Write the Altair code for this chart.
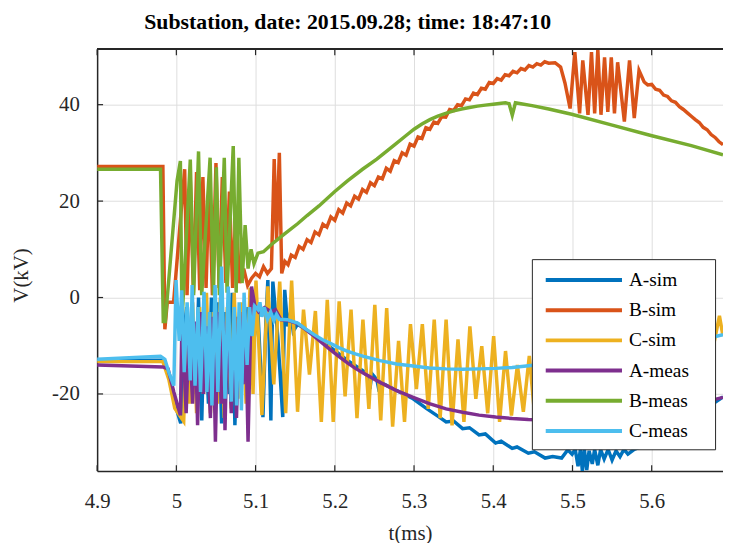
import altair as alt
import pandas as pd

# ---------------- data ----------------
series_names = ["A-sim", "B-sim", "C-sim", "A-meas", "B-meas", "C-meas"]
series_colors = ["#0072BD", "#D95319", "#EDB120", "#7E2F8E", "#77AC30", "#4DBEEE"]

x_ticks = [4.9, 5, 5.1, 5.2, 5.3, 5.4, 5.5, 5.6]
y_ticks = [-20, 0, 20, 40]

a_sim_t = [4.900, 4.983, 4.9905, 4.998, 5.0055, 5.0093, 5.013, 5.0155, 5.0193, 5.0243,
           5.028, 5.0321, 5.0355, 5.0405, 5.0443, 5.0493, 5.053, 5.0571, 5.0618, 5.0668,
           5.0705, 5.0739, 5.078, 5.0843, 5.0905, 5.0968, 5.103, 5.1093, 5.113, 5.1155,
           5.1193, 5.1218, 5.128, 5.1343, 5.1368, 5.1405, 5.1442, 5.1475, 5.153, 5.1739,
           5.1943, 5.2155, 5.2364, 5.243, 5.2443, 5.2468, 5.253, 5.2561, 5.258, 5.278,
           5.2989, 5.3155, 5.330, 5.3405, 5.350, 5.3613, 5.370, 5.3821, 5.390, 5.403, 5.410,
           5.4239, 5.430, 5.4443, 5.452, 5.4655, 5.475, 5.4863, 5.494, 5.4995, 5.5035,
           5.507, 5.510, 5.5125, 5.515, 5.518, 5.521, 5.525, 5.528, 5.532, 5.5355,
           5.540, 5.545, 5.550, 5.555, 5.560, 5.565, 5.570, 5.578, 5.600, 5.630,
           5.653, 5.674, 5.690]
a_sim_v = [-13.0, -13.0, -16.0, -22.0, -26.1, -8.0, -2.0, -18.0, -2.0, -20.0,
           0.0, -25.5, -3.0, -22.0, 0.0, -20.0, -1.0, -26.1, -3.0, -20.0,
           1.0, -26.5, -4.0, -15.0, -2.0, -10.0, -3.0, -24.8, -5.0, 3.6,
           -25.5, 3.3, -8.0, -24.8, 1.6, -6.0, -3.0, -7.0, -5.5, -7.8,
           -10.3, -13.0, -15.3, -16.8, -19.0, -15.8, -17.0, -19.5, -17.6, -19.3,
           -21.0, -23.0, -24.6, -25.8, -25.6, -27.2, -27.0, -28.5, -28.3, -30.2, -29.8,
           -31.3, -31.0, -32.3, -32.0, -33.3, -33.0, -33.3, -31.6, -32.5, -31.5,
           -35.0, -31.5, -36.0, -31.5, -35.8, -31.8, -34.5, -31.5, -34.8, -31.5,
           -33.5, -31.5, -33.7, -31.8, -33.0, -31.5, -32.5, -31.5, -30.0, -27.0,
           -24.5, -22.4, -20.6]

b_sim_t = [4.900, 4.983, 4.9855, 4.9885, 4.9965, 5.0105, 5.0135, 5.0175, 5.0215, 5.0255,
           5.0295, 5.0335, 5.0375, 5.0415, 5.0455, 5.050, 5.054, 5.058, 5.0625, 5.067,
           5.071, 5.075, 5.080, 5.085, 5.090, 5.095, 5.100, 5.105, 5.110, 5.115,
           5.120, 5.1235, 5.1265, 5.130, 5.133, 5.137, 5.141, 5.145, 5.150, 5.155,
           5.160, 5.165, 5.170, 5.175, 5.180, 5.185, 5.190, 5.195, 5.200, 5.205,
           5.210, 5.215, 5.220, 5.225, 5.230, 5.235, 5.240, 5.245, 5.250, 5.255,
           5.260, 5.265, 5.270, 5.275, 5.280, 5.285, 5.290, 5.295, 5.300, 5.305,
           5.310, 5.315, 5.320, 5.325, 5.330, 5.335, 5.340, 5.345, 5.350, 5.355,
           5.360, 5.365, 5.370, 5.375, 5.380, 5.385, 5.390, 5.395, 5.400, 5.405,
           5.410, 5.415, 5.420, 5.425, 5.430, 5.435, 5.440, 5.445, 5.450, 5.455,
           5.460, 5.465, 5.470, 5.478, 5.485, 5.4905, 5.497, 5.503, 5.509, 5.513,
           5.5196, 5.524, 5.528, 5.532, 5.536, 5.5405, 5.5446, 5.549, 5.553, 5.557,
           5.5655, 5.572, 5.578, 5.584, 5.5905, 5.595, 5.600, 5.605, 5.610, 5.615,
           5.620, 5.625, 5.630, 5.635, 5.640, 5.645, 5.650, 5.655, 5.660, 5.665,
           5.670, 5.675, 5.680, 5.685, 5.690]
b_sim_v = [27.2, 27.2, -6.6, -1.0, -1.0, 26.6, 0.5, 25.0, 1.0, 26.0,
           1.5, 25.0, 2.0, 24.5, 0.5, 27.9, 2.0, 25.0, 3.0, 22.0,
           2.0, 18.0, 3.0, 6.0, 2.5, 4.0, 5.0, 4.3, 6.4, 5.0,
           6.0, 28.7, 12.0, 30.0, 5.0, 7.5, 6.8, 8.8, 8.3, 10.6,
           10.0, 12.0, 11.4, 13.6, 13.0, 15.2, 14.6, 16.7, 16.0, 18.2,
           17.5, 19.6, 19.0, 21.0, 20.4, 22.4, 21.8, 23.8, 23.2, 25.0,
           24.6, 26.8, 26.2, 28.4, 28.0, 30.0, 29.5, 31.8, 31.4, 33.3,
           33.0, 35.2, 34.9, 36.4, 36.1, 37.5, 37.4, 39.0, 38.8, 40.0,
           39.8, 41.2, 41.0, 42.4, 42.1, 43.4, 43.2, 44.6, 44.4, 45.4,
           45.1, 46.2, 46.0, 46.9, 46.6, 47.5, 47.2, 48.1, 47.8, 48.5,
           48.2, 48.9, 48.6, 48.7, 47.8, 44.5, 39.2, 50.9, 38.2, 49.2,
           37.9, 50.9, 38.2, 51.5, 37.9, 49.8, 38.5, 49.8, 38.2, 48.8,
           36.5, 49.2, 37.2, 47.1, 44.7, 44.1, 44.2, 43.2, 43.0, 42.0,
           41.7, 40.8, 40.5, 39.6, 39.0, 38.3, 37.6, 36.9, 36.3, 35.3,
           34.8, 33.8, 33.2, 32.3, 31.7]

c_sim_t = [4.900, 4.983, 4.9905, 4.998, 5.0093, 5.013, 5.0168, 5.0205, 5.0255, 5.0293,
           5.0343, 5.038, 5.043, 5.0468, 5.0518, 5.0555, 5.0605, 5.0643, 5.0693, 5.073,
           5.078, 5.083, 5.088, 5.093, 5.0968,
           5.1005, 5.108, 5.1155, 5.123, 5.1305, 5.138, 5.1455, 5.153, 5.1605, 5.168,
           5.1755, 5.183, 5.1905, 5.198, 5.2055, 5.213, 5.2205, 5.228, 5.2355, 5.243,
           5.2505, 5.258, 5.2655, 5.273, 5.2805, 5.288, 5.2955, 5.303, 5.3105, 5.318,
           5.3255, 5.333, 5.3405, 5.348, 5.3555, 5.363, 5.3705, 5.378, 5.3855, 5.393,
           5.4005, 5.408, 5.4155, 5.423, 5.4305, 5.438, 5.4455, 5.453, 5.4605, 5.468,
           5.4755, 5.483, 5.4905, 5.498, 5.5055, 5.513, 5.5205, 5.528, 5.5355, 5.543,
           5.5505, 5.558, 5.5655, 5.573, 5.5805, 5.588, 5.5955, 5.603, 5.6105, 5.618,
           5.6255, 5.633, 5.6405, 5.648, 5.6555, 5.663, 5.6705, 5.678, 5.6855, 5.690]
c_sim_v = [-13.3, -13.3, -17.0, -23.0, -25.7, -5.0, -22.0, -1.0, -24.0, -2.0,
           -20.0, 1.0, -24.0, -3.0, -22.0, 0.0, -25.0, -2.0, -23.0, 1.0,
           -21.0, -1.0, -22.0, 2.0, -20.0,
           3.5, -24.4, 2.3, -18.0, 3.3, -24.0, 3.5, -23.7, -2.5, -16.0,
           -2.8, -25.8, -0.5, -25.8, -0.8, -20.5, -2.5, -25.0, -4.6, -23.1,
           -1.5, -25.5, -2.2, -26.8, -9.0, -25.8, -5.5, -19.0, -5.5, -23.1,
           -4.6, -25.0, -4.6, -26.5, -8.7, -25.8, -6.0, -21.0, -10.1, -24.0,
           -8.0, -25.8, -11.1, -24.5, -14.0, -23.7, -12.1, -25.8, -12.0, -23.0,
           -12.0, -22.0, -10.0, -21.0, -9.0, -20.0, -8.0, -18.0, -8.0, -17.0,
           -6.0, -15.0, -6.0, -14.0, -5.0, -13.0, -5.0, -12.0, -4.0, -12.0,
           -4.0, -11.0, -4.0, -11.0, -3.6, -10.5, -3.6, -10.0, -3.8, -8.0]

a_meas_t = [4.900, 4.983, 4.9895, 4.9968, 5.0051, 5.0071, 5.0124, 5.0161, 5.0205, 5.0236,
            5.0268, 5.0305, 5.0343, 5.038, 5.043, 5.0461, 5.0493, 5.053, 5.0568, 5.0593,
            5.0614, 5.0649, 5.0693, 5.0736, 5.0759, 5.0799, 5.0843, 5.0874, 5.0905, 5.0949,
            5.0989, 5.1040, 5.1113, 5.120, 5.125, 5.1321, 5.142, 5.153, 5.163, 5.1739,
            5.184, 5.1943, 5.205, 5.2155, 5.226, 5.2364, 5.2571, 5.278, 5.2989, 5.3193,
            5.3405, 5.3613, 5.3821, 5.403, 5.4239, 5.4443, 5.4655, 5.497, 5.528, 5.560,
            5.5905, 5.620, 5.653, 5.690]
a_meas_v = [-14.0, -14.4, -14.8, -19.6, -24.4, -4.6, -24.0, -6.0, -22.0, -5.0,
            -26.5, -3.0, -20.0, -6.0, -25.0, -4.0, -29.9, -3.0, -22.0, -5.0,
            -27.5, -2.0, -24.0, -4.0, -25.0, -3.0, -18.0, -6.0, -29.9, 2.3,
            -1.5, -3.0, -2.1, -3.0, -2.5, -4.6, -4.8, -5.4, -6.6, -8.0,
            -9.4, -10.8, -12.2, -13.5, -14.7, -15.7, -17.6, -19.3, -20.7, -22.0,
            -23.1, -23.8, -24.4, -24.8, -25.1, -25.3, -25.4, -25.3, -25.0, -24.6,
            -24.0, -23.3, -22.3, -20.7]

b_meas_t = [4.900, 4.980, 4.9835, 4.986, 5.0009, 5.0051, 5.0071, 5.0176, 5.0218, 5.028,
            5.032, 5.0426, 5.0468, 5.0505, 5.0543, 5.0605, 5.064, 5.0718, 5.0755, 5.0789,
            5.083, 5.0868, 5.0905, 5.0943, 5.098, 5.103, 5.110, 5.120, 5.135, 5.153,
            5.165, 5.180, 5.200, 5.216, 5.235, 5.253, 5.275, 5.290, 5.300, 5.310,
            5.320, 5.330, 5.340, 5.350, 5.360, 5.370, 5.380, 5.390, 5.400, 5.410,
            5.4155, 5.420, 5.424, 5.428, 5.435, 5.449, 5.470, 5.499, 5.549, 5.599,
            5.650, 5.690]
b_meas_v = [26.6, 26.6, -5.0, -5.0, 24.2, 28.3, -4.9, 28.6, 0.5, 30.3,
            0.5, 29.0, 0.5, 27.0, 0.5, 29.0, 1.0, 31.4, 1.0, 29.0,
            3.0, 15.0, 6.0, 10.0, 7.0, 9.2, 9.5, 11.0, 13.0, 15.3,
            17.0, 19.0, 22.0, 24.2, 26.6, 28.7, 31.6, 33.6, 34.9, 36.0,
            36.9, 37.6, 38.2, 38.7, 39.1, 39.4, 39.7, 39.9, 40.1, 40.3,
            40.4, 40.2, 37.8, 40.4, 40.2, 39.8, 39.1, 38.0, 35.8, 33.6,
            31.5, 29.6]

c_meas_t = [4.900, 4.980, 4.9855, 4.9905, 4.9968, 4.9996, 5.0036, 5.0068, 5.0099, 5.0136,
            5.0176, 5.0199, 5.0236, 5.0274, 5.0305, 5.0349, 5.0386, 5.0418, 5.0449, 5.0489,
            5.0524, 5.0571, 5.0614, 5.0655, 5.0693, 5.073, 5.0761, 5.0793, 5.0821, 5.0855,
            5.0893, 5.0924, 5.0955, 5.0989, 5.103, 5.1055, 5.108, 5.111, 5.115, 5.119,
            5.123, 5.1265, 5.130, 5.140, 5.153, 5.163, 5.1739, 5.184, 5.1943, 5.205,
            5.2155, 5.226, 5.2364, 5.2571, 5.278, 5.2989, 5.3193, 5.3405, 5.361, 5.3821,
            5.403, 5.4239, 5.4655, 5.497, 5.528, 5.560, 5.5905, 5.620, 5.653, 5.670, 5.690]
c_meas_v = [-12.8, -12.2, -12.8, -15.5, -18.3, 3.6, -9.0, 1.5, -15.5, -1.0,
            -17.2, 2.6, -18.3, -2.0, -19.6, 1.2, -19.6, -3.0, -22.4, 2.6,
            -19.6, 6.4, -21.0, 2.3, -21.6, -2.0, -22.4, -1.0, -23.4, 1.0,
            -14.0, -2.0, -8.0, -1.8, -2.5, -1.0, -4.0, -2.0, -4.5, -3.0,
            -4.8, -3.5, -4.5, -4.6, -5.3, -6.5, -7.7, -8.7, -9.5, -10.4,
            -11.1, -11.7, -12.2, -13.1, -13.8, -14.2, -14.6, -14.8, -14.9, -14.8,
            -14.7, -14.5, -13.8, -13.1, -12.3, -11.3, -10.4, -9.6, -8.8, -8.5, -7.7]

series_data = [
    ("A-sim", a_sim_t, a_sim_v),
    ("B-sim", b_sim_t, b_sim_v),
    ("C-sim", c_sim_t, c_sim_v),
    ("A-meas", a_meas_t, a_meas_v),
    ("B-meas", b_meas_t, b_meas_v),
    ("C-meas", c_meas_t, c_meas_v),
]

frames = []
for k, (name, ts, vs) in enumerate(series_data):
    frames.append(pd.DataFrame({"t": ts, "v": vs, "series": [name] * len(ts),
                                "draw": [k] * len(ts)}))
df = pd.concat(frames, ignore_index=True)

# ---------------- chart ----------------
W, H = 632, 426
FONT = "Liberation Serif"
AXC = "#262626"

xs = alt.Scale(domain=[4.9, 5.69], nice=False, zero=False)
ys = alt.Scale(domain=[-36, 51.5], nice=False, zero=False)

x_axis = alt.Axis(values=x_ticks, labelExpr="'' + datum.value", title="t(ms)",
                  labelPadding=20, titlePadding=11, labelFlush=False, labelFont=FONT)
y_axis = alt.Axis(values=y_ticks, labelExpr="'' + datum.value", title="V(kV)",
                  labelPadding=18, titleX=-66, titleY=228, labelFlush=False, labelFont=FONT)

legend = alt.Legend(
    title=" ", titleOrient="right", titlePadding=17, titleFontSize=1,
    orient="none", legendX=439, legendY=212,
    symbolType="M-3.85,0L3.85,0", symbolSize=400, symbolStrokeWidth=4,
    symbolOffset=31.5, labelOffset=33.5,
    labelFont=FONT, labelFontSize=19.5, labelColor="black",
    fillColor="white", strokeColor=AXC, padding=9, rowPadding=8.5)

lines = alt.Chart(df).mark_line(strokeWidth=3.5, clip=True).encode(
    x=alt.X("t:Q", scale=xs, axis=x_axis),
    y=alt.Y("v:Q", scale=ys, axis=y_axis),
    color=alt.Color("series:N", scale=alt.Scale(domain=series_names, range=series_colors),
                    legend=legend),
    detail="draw:O",
)

xt = pd.DataFrame({"t": x_ticks})
yt = pd.DataFrame({"v": y_ticks})
tick_style = dict(color=AXC, strokeWidth=1.2)
bottom_ticks = alt.Chart(xt).mark_rule(**tick_style).encode(
    x=alt.X("t:Q", scale=xs, axis=x_axis), y=alt.value(H), y2=alt.value(H - 6))
top_ticks = alt.Chart(xt).mark_rule(**tick_style).encode(
    x=alt.X("t:Q", scale=xs, axis=x_axis), y=alt.value(0), y2=alt.value(6))
left_ticks = alt.Chart(yt).mark_rule(**tick_style).encode(
    y=alt.Y("v:Q", scale=ys, axis=y_axis), x=alt.value(0), x2=alt.value(6))
top_line = alt.Chart(xt).mark_rule(color=AXC, strokeWidth=1.5).encode(
    x=alt.value(0), x2=alt.value(W), y=alt.value(0))

chart = alt.layer(lines, bottom_ticks, top_ticks, left_ticks, top_line).properties(
    width=W, height=H,
    autosize=alt.AutoSizeParams(type="none"),
    padding={"left": 90, "top": 39, "right": 0, "bottom": 70},
    background="white",
    title=alt.TitleParams(
        text="Substation, date: 2015.09.28; time: 18:47:10",
        font=FONT, fontSize=22, fontWeight="bold", color="black",
        anchor="middle", dx=-63, offset=15),
).configure(font=FONT).configure_view(stroke=None).configure_axis(
    ticks=False, grid=True, gridColor="#dedede", gridWidth=1,
    domainColor=AXC, domainWidth=1.5,
    labelFont=FONT, labelFontSize=21, labelColor=AXC,
    titleFont=FONT, titleFontSize=21, titleFontWeight="normal", titleColor=AXC,
).configure_legend(labelFont=FONT)

chart.save("out.html", embed_options={"renderer": "svg", "actions": False})
